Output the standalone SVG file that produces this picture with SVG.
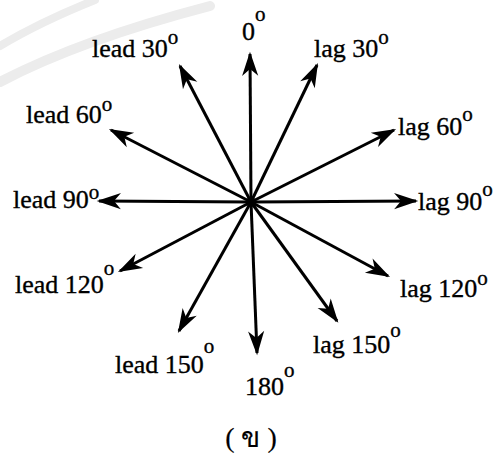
<svg xmlns="http://www.w3.org/2000/svg" width="502" height="455" viewBox="0 0 502 455">
<style>
.t{font-family:"Liberation Serif","Times New Roman",serif;font-size:26px;fill:#000;stroke:#000;stroke-width:0.35}
.d{font-size:21px}
.v{stroke:#000;stroke-width:3;fill:none;marker-end:url(#ah)}
.wm{fill:none;stroke:#ececec;stroke-linecap:round}
</style>
<defs>
<marker id="ah" markerUnits="userSpaceOnUse" markerWidth="30" markerHeight="20" viewBox="-22 -8 26 16" refX="0" refY="0" orient="auto">
<path d="M2,0 L-19,-7 L-13,0 L-19,7 Z" fill="#000"/>
</marker>
</defs>
<rect width="502" height="455" fill="#fff"/>
<g id="watermark">
<path class="wm" d="M0,82 Q80,40 210,6" stroke-width="10"/>
<path class="wm" d="M0,46 Q40,22 95,0" stroke-width="8"/>
</g>
<g id="connectors">
<line class="v" x1="251" y1="202" x2="250" y2="54"/>
<line class="v" x1="251" y1="202" x2="317" y2="65"/>
<line class="v" x1="251" y1="202" x2="394" y2="130"/>
<line class="v" x1="251" y1="202" x2="416" y2="201"/>
<line class="v" x1="251" y1="202" x2="388" y2="276"/>
<line class="v" x1="251" y1="202" x2="337" y2="321"/>
<line class="v" x1="251" y1="202" x2="257" y2="353"/>
<line class="v" x1="251" y1="202" x2="179" y2="331"/>
<line class="v" x1="251" y1="202" x2="120" y2="271"/>
<line class="v" x1="251" y1="202" x2="99" y2="201"/>
<line class="v" x1="251" y1="202" x2="111" y2="130"/>
<line class="v" x1="251" y1="202" x2="180" y2="66"/>
</g>
<g id="center"><circle cx="251" cy="202" r="5" fill="#000"/></g>
<g id="n0"><text class="t" x="242" y="40">0<tspan class="d" dy="-19">o</tspan></text></g>
<g id="lag30"><text class="t" x="314" y="57">lag 30<tspan class="d" dy="-13">o</tspan></text></g>
<g id="lag60"><text class="t" x="398" y="135">lag 60<tspan class="d" dy="-14">o</tspan></text></g>
<g id="lag90"><text class="t" x="418" y="210">lag 90<tspan class="d" dy="-14">o</tspan></text></g>
<g id="lag120"><text class="t" x="400" y="297">lag 120<tspan class="d" dy="-12">o</tspan></text></g>
<g id="lag150"><text class="t" x="313" y="353">lag 150<tspan class="d" dy="-16">o</tspan></text></g>
<g id="n180"><text class="t" x="245" y="395">180<tspan class="d" dy="-18">o</tspan></text></g>
<g id="lead150"><text class="t" x="115" y="373">lead 150<tspan class="d" dy="-20">o</tspan></text></g>
<g id="lead120"><text class="t" x="15" y="293">lead 120<tspan class="d" dy="-18">o</tspan></text></g>
<g id="lead90"><text class="t" x="13" y="208">lead 90<tspan class="d" dy="-9">o</tspan></text></g>
<g id="lead60"><text class="t" x="26" y="123">lead 60<tspan class="d" dy="-12">o</tspan></text></g>
<g id="lead30"><text class="t" x="92" y="57">lead 30<tspan class="d" dy="-13">o</tspan></text></g>
<g id="caption"><text class="t" x="251" y="447" text-anchor="middle" style="font-size:28px;stroke-width:0.2">( ข )</text></g>
</svg>
